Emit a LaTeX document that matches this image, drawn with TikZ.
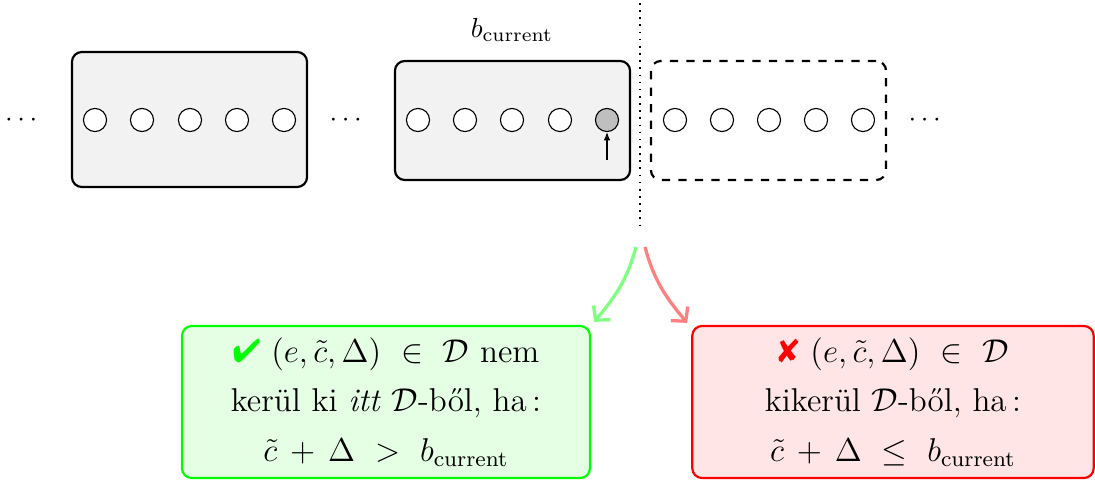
\documentclass[tikz,border=0pt]{standalone}
\usepackage{amsmath}
\usepackage{fontspec}
\usepackage{pifont}
\usetikzlibrary{arrows.meta}

\begin{document}
\begin{tikzpicture}[x=0.36364pt, y=-0.36364pt,
  blockbox/.style={draw=black, thick, rounded corners=3.6pt, fill=gray!10,
    minimum width=85.5pt, inner sep=0pt},
  nextbox/.style={draw=black, thick, dashed, rounded corners=3.6pt,
    minimum width=85.5pt, minimum height=43.3pt, inner sep=0pt},
  item/.style={circle, draw=black, fill=white, minimum size=8.4pt, inner sep=0pt},
  current/.style={item, fill=gray!50},
  rulebox/.style={rounded corners=3.6pt, thick, minimum height=55.3pt,
    align=center, font=\large, inner sep=0pt},
  keep/.style={rulebox, draw=green, fill=green!10, minimum width=148.4pt},
  drop/.style={rulebox, draw=red, fill=red!10, minimum width=146pt},
  branch/.style={very thick, -{Straight Barb[length=3.6pt,width=8pt]}}
]
\useasboundingbox (0,0) rectangle (1095,480);

% blocks of the sequence
\node[blockbox, minimum height=49.1pt] (b1) at (189.5,119.5) {};
\node[blockbox, minimum height=43.3pt] (b2) at (512.5,120.5) {};
\node[nextbox] (b3) at (768.5,120.5) {};

\foreach \i/\x in {1/95,2/142,3/190,4/237,5/284}
  \node[item] (p\i) at (\x,120) {};
\foreach \i/\x in {1/418,2/465,3/512,4/560}
  \node[item] (c\i) at (\x,120) {};
\node[current] (c5) at (607,120) {};
\foreach \i/\x in {1/675,2/722,3/769,4/816,5/863}
  \node[item] (n\i) at (\x,120) {};

\node (d1) at (23.5,120) {$\cdots$};
\node (d2) at (348,120) {$\cdots$};
\node (d3) at (927,120) {$\cdots$};

\node (lbl) at (512,30) {$b_{\text{current}}$};

% pointer to the current element
\coordinate (ptr) at (607,160);
\draw[-{Latex[length=3pt,width=2.4pt]}] (ptr) -- (c5.south);

% cut between processed and upcoming blocks
\coordinate (cutTop) at (640,3);
\coordinate (cutBot) at (640,225);
\draw[dotted, semithick] (cutTop) -- (cutBot);

% outcome boxes
\node[keep] (ok) at (386,402) {%
  {\color{green}\ding{52}} $(e,\tilde c,\Delta)\ \in\ \mathcal{D}$ nem\\[4pt]
  kerül ki \textit{itt} $\mathcal{D}$-ből, ha\,:\\[4pt]
  $\tilde c\,+\,\Delta\ >\ b_{\text{current}}$};
\node[drop] (no) at (893,402) {%
  {\color{red}\ding{56}} $(e,\tilde c,\Delta)\ \in\ \mathcal{D}$\\[4pt]
  kikerül $\mathcal{D}$-ből, ha\,:\\[4pt]
  $\tilde c\,+\,\Delta\ \le\ b_{\text{current}}$};

\coordinate (gs) at (636,247);
\coordinate (rs) at (645,247);
\draw[branch, green!50] (gs) to[out=-105, in=50] ([shift={(3,-3)}]ok.north east);
\draw[branch, red!50] (rs) to[out=-75, in=130] ([shift={(-4,-2)}]no.north west);
\end{tikzpicture}
\end{document}
